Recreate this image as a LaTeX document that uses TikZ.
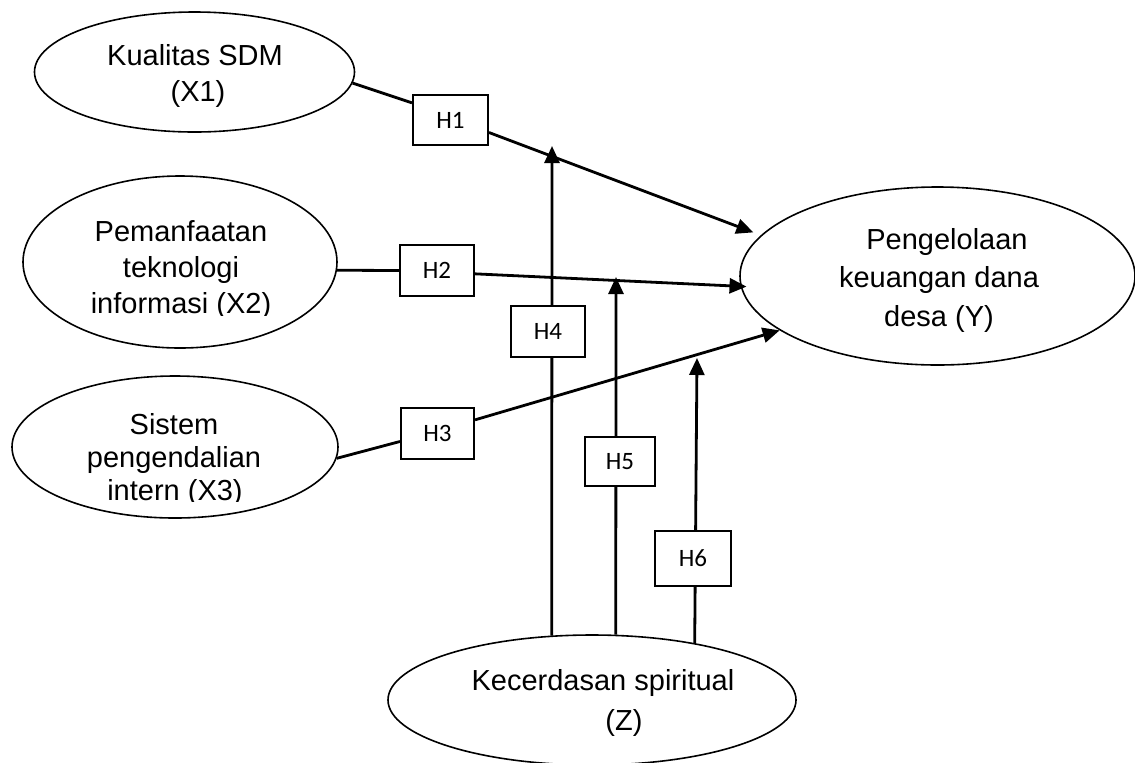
\documentclass[tikz,border=0pt]{standalone}
\usepackage{fontspec}
\setmainfont{Liberation Sans}
\newfontfamily\calib{Carlito}
\usetikzlibrary{arrows.meta,backgrounds,shapes.geometric}
\begin{document}
\begin{tikzpicture}[x=0.5pt,y=-0.5pt,
  oval/.style={draw, line width=0.8pt, ellipse, inner sep=0pt},
  hbox/.style={draw, line width=1pt, rectangle, inner sep=0pt, fill=white, font=\calib\fontsize{12.5}{14}\selectfont},
  txt/.style={anchor=base, inner sep=0pt, font=\fontsize{14.5}{17}\selectfont},
  conn/.style={line width=1.4pt},
  arr/.style={conn, -{Triangle[length=8.5pt,width=7.5pt]}}
]
\useasboundingbox (0,0) rectangle (1135,762);

% ellipses
\node[oval, minimum width=160pt, minimum height=60pt] (x1) at (194.5,72) {};
\node[oval, minimum width=157pt, minimum height=86pt] (x2) at (180,262) {};
\node[oval, minimum width=163pt, minimum height=71pt] (x3) at (175,447) {};
\node[oval, minimum width=197.5pt, minimum height=89pt] (y) at (937.5,276) {};
\node[oval, minimum width=204pt, minimum height=65pt] (z) at (592,700) {};

% texts
\node[txt] (x1a) at (195,65) {Kualitas SDM};
\node[txt] (x1b) at (198,101) {(X1)};
\node[txt] (x2a) at (181,241) {Pemanfaatan};
\node[txt] (x2b) at (181,277) {teknologi};
\begin{scope}
  \clip (0,0) rectangle (1135,315.5);
  \node[txt] (x2c) at (181,313) {informasi (X2)};
\end{scope}
\node[txt] (x3a) at (174,434) {Sistem};
\node[txt] (x3b) at (174,467) {pengendalian};
\begin{scope}
  \clip (0,0) rectangle (1135,501.5);
  \node[txt] (x3c) at (175,500) {intern (X3)};
\end{scope}
\node[txt] (ya) at (947,249) {Pengelolaan};
\node[txt] (yb) at (939,287) {keuangan dana};
\node[txt] (yc) at (939,326) {desa (Y)};
\node[txt] (za) at (603,690) {Kecerdasan spiritual};
\node[txt] (zb) at (624,730) {(Z)};

% hypothesis boxes
\node[hbox, minimum width=37.5pt, minimum height=25pt] (h1) at (450.5,120) {H1};
\node[hbox, minimum width=37pt, minimum height=25.5pt] (h2) at (437,270.5) {H2};
\node[hbox, minimum width=36.5pt, minimum height=25.5pt] (h3) at (437.5,433.5) {H3};
\node[hbox, minimum width=37pt, minimum height=25.5pt] (h4) at (548,331.5) {H4};
\node[hbox, minimum width=35pt, minimum height=24.5pt] (h5) at (620,461.5) {H5};
\node[hbox, minimum width=38pt, minimum height=27.5pt] (h6) at (693,558.5) {H6};

% arrow tips of moderation lines
\coordinate (t4) at (552,146);
\coordinate (t5) at (616,277);
\coordinate (t6) at (697,358);

\begin{scope}[on background layer]
  \draw[conn] (x1.-4) -- (h1.156);
  \draw[arr, shorten >=4pt] (h1.-18) -- (y.167);
  \draw[conn] (x2.-3) -- (h2.west);
  \draw[arr, shorten >=-3pt] (h2.-5) -- (y.183);
  \draw[conn] (x3.-4) -- (h3.192);
  \draw[arr] (h3.20) -- (y.199);
  \draw[arr] (z.122) -- (t4);
  \draw[arr] (z.70) -- (t5);
  \draw[arr] (z.29) -- (t6);
\end{scope}
\end{tikzpicture}
\end{document}
